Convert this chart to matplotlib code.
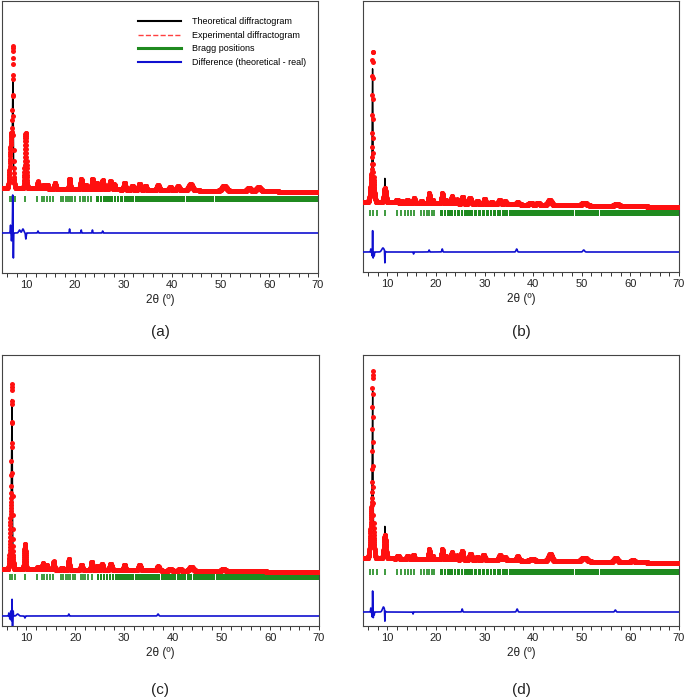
import numpy as np
import matplotlib.pyplot as plt
from matplotlib.lines import Line2D

plt.rcParams['font.family'] = ['Liberation Sans', 'DejaVu Sans']

# 2theta grid of the measurement (step 0.02 deg)
two_theta = np.arange(5.0, 70.0 + 1e-9, 0.02)

# ---- data (intensities in arbitrary units) ----
# peaks given as (position, height, fwhm)

# (a)
a_bg = (85, 81)
a_obs_main = [(6.95, 55, 0.65), (7.25, 112, 0.17), (9.85, 55, 0.38)]
a_calc_main = [(6.95, 55, 0.65), (7.25, 82, 0.17), (9.85, 55, 0.38)]
a_minor = [(12.4, 7, 0.3), (13.6, 4, 0.3), (14.3, 4, 0.3), (15.9, 6, 0.3),
           (18.9, 10, 0.3), (21.3, 10, 0.35), (22.3, 4, 0.3), (23.6, 10, 0.35),
           (24.6, 6, 0.3), (25.7, 9, 0.4), (27.3, 8, 0.5), (28.1, 5, 0.3),
           (30.2, 7, 0.4), (31.8, 4, 0.4), (33.3, 6, 0.5), (34.5, 4, 0.4),
           (37.1, 5, 0.5), (39.6, 3, 0.5), (41.2, 4, 0.6), (43.8, 6, 0.9),
           (50.7, 5, 1.0), (55.8, 3, 0.8), (57.8, 4, 1.0)]
a_diff_base = 40
a_diff = [(6.75, 8, 0.12), (6.95, -8, 0.10), (7.2, 38, 0.08), (7.34, -25, 0.08),
          (8.6, 3, 0.4), (9.3, 4, 0.4), (9.9, -6, 0.15), (12.4, 2, 0.15),
          (18.9, 4, 0.12), (21.3, 3, 0.12), (23.6, 3, 0.12), (25.7, 2, 0.15)]
a_bragg_y = (71, 77)

# (b)
b_bg = (70, 65)
b_obs_main = [(6.9, 32, 0.7), (6.97, 120, 0.17), (9.5, 14, 0.5)]
b_calc_main = [(6.9, 32, 0.7), (6.97, 103, 0.17), (9.5, 12, 0.5), (9.5, 12, 0.08)]
b_minor = [(12.0, 3, 0.4), (13.0, 2, 0.3), (14.1, 3, 0.3), (15.5, 5, 0.3),
           (17.0, 2, 0.3), (18.6, 10, 0.3), (19.3, 3, 0.3), (21.3, 10, 0.35),
           (22.0, 3, 0.3), (23.3, 7, 0.35), (24.4, 4, 0.3), (25.5, 7, 0.4),
           (27.0, 6, 0.5), (28.5, 3, 0.4), (30.0, 5, 0.4), (31.5, 2, 0.4),
           (33.1, 4, 0.6), (34.2, 3, 0.5), (36.8, 2, 0.5), (39.5, 2, 0.6),
           (41.0, 2, 0.6), (43.4, 5, 0.8), (50.5, 3, 1.0), (57.2, 2, 1.0)]
b_diff_base = 20
b_diff = [(6.6, 3, 0.1), (6.85, -4, 0.08), (6.97, 23, 0.06), (7.1, -6, 0.07),
          (7.3, -4, 0.1), (9.1, 4, 0.6), (9.5, -12, 0.08), (15.4, -2, 0.1),
          (18.6, 2, 0.15), (21.3, 3, 0.2), (36.6, 3, 0.3), (50.4, 2, 0.4)]
b_bragg_y = (56, 62)

# (c)
c_bg = (57, 54)
c_obs_main = [(6.9, 68, 0.5), (7.05, 132, 0.17), (9.7, 25, 0.35)]
c_calc_main = [(6.9, 68, 0.5), (7.05, 116, 0.17), (9.7, 25, 0.35)]
c_minor = [(12.3, 2, 0.3), (13.4, 6, 0.3), (14.2, 4, 0.3), (15.6, 8, 0.3),
           (17.3, 2, 0.3), (18.7, 11, 0.3), (21.3, 5, 0.4), (23.4, 8, 0.35),
           (24.6, 4, 0.3), (25.5, 6, 0.4), (27.3, 6, 0.5), (30.1, 5, 0.4),
           (33.2, 5, 0.5), (37.0, 4, 0.5), (39.5, 2, 0.5), (41.5, 2, 0.5),
           (43.8, 4, 0.8), (50.4, 2, 0.8)]
c_diff_base = 10
c_diff = [(6.4, 3, 0.1), (6.6, -3, 0.08), (6.8, 5, 0.08), (6.95, -5, 0.06),
          (7.05, 18, 0.06), (7.16, -10, 0.06), (7.3, 5, 0.07), (8.2, 2, 0.5),
          (9.7, -2, 0.15), (18.7, 2, 0.15), (37.0, 2, 0.3)]
c_bragg_y = (46, 52)

# (d)
d_bg = (68, 63)
d_obs_main = [(6.85, 55, 0.65), (6.98, 138, 0.17), (9.5, 23, 0.5)]
d_calc_main = [(6.85, 55, 0.65), (6.98, 118, 0.17), (9.5, 20, 0.5), (9.5, 12, 0.08)]
d_minor = [(12.2, 3, 0.4), (14.2, 3, 0.4), (15.4, 4, 0.3), (18.6, 10, 0.3),
           (19.3, 3, 0.3), (21.3, 10, 0.35), (22.0, 3, 0.3), (23.3, 7, 0.35),
           (24.3, 4, 0.3), (25.4, 9, 0.4), (27.1, 6, 0.5), (28.5, 3, 0.4),
           (29.8, 5, 0.5), (33.2, 5, 0.6), (34.2, 3, 0.5), (36.8, 4, 0.5),
           (39.8, 2, 0.8), (43.5, 7, 0.8), (50.5, 4, 1.2), (57.0, 4, 0.8),
           (60.5, 2, 0.8)]
d_diff_base = 14
d_diff = [(6.6, 4, 0.1), (6.85, -5, 0.08), (6.98, 21, 0.06), (7.11, -6, 0.07),
          (7.3, -3, 0.1), (9.2, 5, 0.5), (9.5, -11, 0.08), (15.3, -2, 0.1),
          (25.4, 3, 0.2), (36.7, 3, 0.3), (56.9, 2, 0.3)]
d_bragg_y = (51, 57)

# Bragg reflections: isolated ticks, then a dense zone broken by thin gaps
phase1_ticks = [6.6, 7.1, 7.6, 9.8, 12.1, 13.2, 13.7, 14.2, 14.8, 15.5, 17.1,
                17.6, 18.1, 18.5, 19.0, 19.5, 20.0, 21.1, 21.6, 22.1, 22.7, 23.4]
phase1_dense = 24.4
phase1_gaps = [25.0, 25.6, 26.2, 26.8, 27.4, 28.0, 28.6, 29.2, 30.0, 32.2,
               37.5, 40.8, 42.8, 44.1, 48.7]
phase2_ticks = [6.5, 7.1, 7.8, 9.6, 11.9, 12.9, 13.6, 14.3, 14.8, 15.4, 16.9,
                17.6, 18.1, 18.5, 19.1, 19.6]
phase2_dense = 20.8
phase2_gaps = [21.5, 22.2, 22.9, 23.6, 24.3, 25.0, 25.7, 26.4, 27.0, 27.8,
               28.6, 29.3, 30.2, 31.0, 31.7, 32.5, 33.5, 34.4, 35.0, 40.6,
               48.5, 53.6, 58.7]


def profile(x, peaks):
    y = np.zeros_like(x)
    for pos, h, w in peaks:
        y += h * np.exp(-4 * np.log(2) * ((x - pos) / w) ** 2)
    return y


panels = [
    ('(a)', (2, 1, 318, 273), a_bg, a_obs_main, a_calc_main, a_minor,
     a_diff_base, a_diff, a_bragg_y, phase1_ticks, phase1_dense, phase1_gaps),
    ('(b)', (363, 1, 679, 272), b_bg, b_obs_main, b_calc_main, b_minor,
     b_diff_base, b_diff, b_bragg_y, phase2_ticks, phase2_dense, phase2_gaps),
    ('(c)', (2, 355, 319, 626), c_bg, c_obs_main, c_calc_main, c_minor,
     c_diff_base, c_diff, c_bragg_y, phase1_ticks, phase1_dense, phase1_gaps),
    ('(d)', (363, 355, 679, 626), d_bg, d_obs_main, d_calc_main, d_minor,
     d_diff_base, d_diff, d_bragg_y, phase2_ticks, phase2_dense, phase2_gaps),
]

W, H = 685, 698
fig = plt.figure(figsize=(W / 100, H / 100), dpi=100)

RED = '#ff1010'
GREEN = '#1f8a1f'
BLUE = '#1010d0'

for (tag, (l, t, r, b), bg, obs_main, calc_main, minor,
     diff_base, diff, bragg_y, ticks, dense, gaps) in panels:
    ax = fig.add_axes([l / W, 1 - b / H, (r - l) / W, (b - t) / H])

    background = np.linspace(bg[0], bg[1], two_theta.size)
    obs = background + profile(two_theta, obs_main + minor)
    calc = background + profile(two_theta, calc_main + minor)
    dif = diff_base + profile(two_theta, diff)

    ax.plot(two_theta, calc, color='black', lw=1.0, zorder=2)
    ax.plot(two_theta, obs, 'o', color=RED, ms=3.6, mec='none', zorder=3)

    # Bragg positions
    ax.vlines(ticks, bragg_y[0], bragg_y[1], color=GREEN, lw=1.2, zorder=2)
    edges = [dense] + gaps + [70]
    for i in range(len(edges) - 1):
        x0 = edges[i] + (0.08 if i > 0 else 0)
        x1 = edges[i + 1] - 0.08 if i + 1 < len(edges) - 1 else edges[i + 1]
        ax.fill_between([x0, x1], bragg_y[0], bragg_y[1], color=GREEN, lw=0, zorder=2)

    ax.plot(two_theta, dif, color=BLUE, lw=1.2, zorder=4)

    ax.set_xlim(5, 70)
    ax.set_ylim(0, b - t)
    ax.set_yticks([])
    ax.set_xticks(range(10, 71, 10))
    ax.set_xticks(np.arange(6, 71, 2), minor=True)
    ax.tick_params(axis='x', which='both', direction='out', length=3, width=0.7,
                   labelsize=8, pad=2, colors='#333333')
    ax.tick_params(axis='x', labelcolor='#222222')
    for sp in ax.spines.values():
        sp.set_linewidth(0.8)
        sp.set_color('#444444')
    ax.set_xlabel('2θ (º)', fontsize=8.5, labelpad=3, color='#222222')

    cap_y = 332 if t < 100 else 690
    fig.text((l + r) / 2 / W, 1 - cap_y / H, tag, ha='center', va='center',
             fontsize=11, color='#222222')

    if tag == '(a)':
        handles = [Line2D([], [], color='black', lw=1.5),
                   Line2D([], [], color='#ff4040', lw=1.0, ls='--'),
                   Line2D([], [], color=GREEN, lw=2.2),
                   Line2D([], [], color=BLUE, lw=1.5)]
        labels = ['Theoretical diffractogram', 'Experimental diffractogram',
                  'Bragg positions', 'Difference (theoretical - real)']
        ax.legend(handles, labels, loc='upper left', bbox_to_anchor=(0.43, 0.94),
                  frameon=False, fontsize=6.5, handlelength=4.8,
                  handletextpad=1.2, labelspacing=0.5, borderaxespad=0,
                  borderpad=0)

fig.savefig('out.png', dpi=100)
